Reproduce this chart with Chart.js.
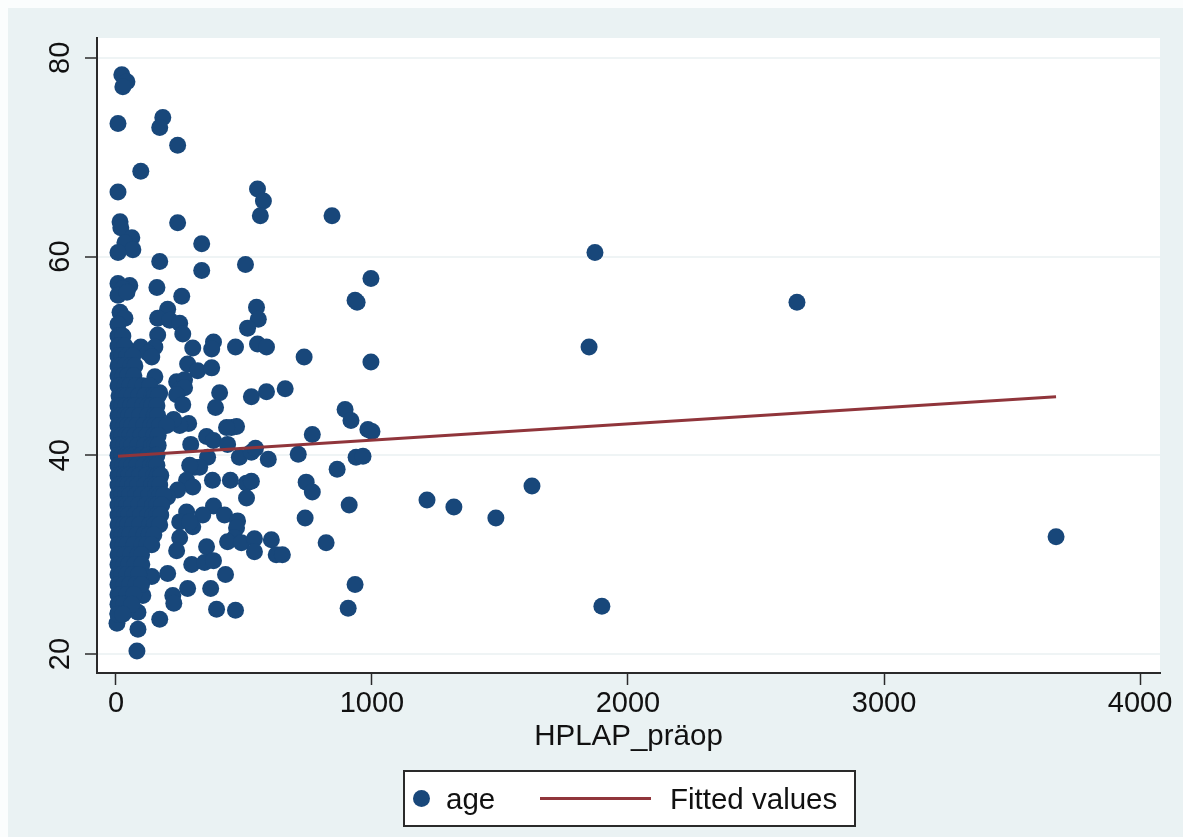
<!DOCTYPE html>
<html><head><meta charset="utf-8">
<script src="https://cdn.jsdelivr.net/npm/chart.js@4"></script>
<style>
html,body{margin:0;padding:0;background:#fbfdfd;width:1183px;height:837px;overflow:hidden}
#bg{position:absolute;left:8px;top:8px;width:1175px;height:829px;background:#eaf2f3}
#wrap{position:absolute;left:0;top:0;width:1183px;height:837px;filter:blur(.4px)}
#legend{position:absolute;left:403px;top:770px;width:449px;height:53px;background:#fff;border:2px solid #2a2a2a;font:29.5px "Liberation Sans",Arial,sans-serif;color:#111;filter:blur(.4px)}
#legend span{position:absolute;top:10px;line-height:33px;white-space:nowrap}
#legend i{position:absolute;display:block}
</style></head><body>
<div id="bg"></div>
<div id="wrap"><canvas id="c" width="1183" height="837"></canvas></div>
<div id="legend">
<i style="left:8px;top:18px;width:17px;height:17px;border-radius:50%;background:#18477a"></i><span style="left:41px">age</span>
<i style="left:135px;top:25px;width:111px;height:3px;background:#90353b"></i><span style="left:265px">Fitted values</span>
</div>
<script>
const xTickValues=[0,1000,2000,3000,4000];
const yTickValues=[20,40,60,80];
const xTitle="HPLAP_präop";
const upperPoints=[[23,78.3],[43,77.6],[27,77.1],[8,73.4],[183,74.0],[171,73.0],[241,71.2],[97,68.6],[8,66.5],[553,66.8],[576,65.6],[564,64.1],[844,64.1],[241,63.4],[16,63.5],[19,62.9],[62,61.9],[35,61.4],[66,60.7],[8,60.4],[335,61.3],[171,59.5],[335,58.6],[506,59.2],[996,57.8],[934,55.6],[942,55.4],[8,57.3],[54,57.1],[27,56.8],[8,56.1],[43,56.4],[160,56.9],[257,56.0],[549,54.9],[556,53.7],[514,52.8],[16,54.4],[35,53.8],[8,53.2],[202,54.7],[163,53.8],[210,53.6],[249,53.3],[261,52.2],[163,52.1],[381,51.4],[553,51.2],[588,50.9],[467,50.9],[300,50.8],[97,50.9],[152,50.9],[374,50.7],[125,50.3],[140,49.9]];
const middlePoints=[[735,49.9],[996,49.4],[280,49.2],[319,48.5],[374,48.8],[152,47.9],[237,47.4],[268,47.6],[249,46.6],[268,46.8],[237,46.1],[171,46.3],[261,45.1],[405,46.3],[389,44.8],[529,45.9],[588,46.4],[661,46.7],[895,44.6],[918,43.5],[984,42.6],[1000,42.4],[767,42.1],[451,42.8],[471,42.9],[432,42.8],[354,41.9],[381,41.5],[292,41.1],[436,41.1],[358,39.8],[482,39.8],[529,40.3],[545,40.7],[595,39.6],[712,40.1],[938,39.8],[965,39.9],[864,38.6],[307,38.8],[327,38.8],[288,39.0],[171,37.8],[377,37.5],[447,37.5],[276,37.5],[300,36.8],[241,36.5],[510,37.2],[529,37.4],[510,35.7],[743,37.3],[767,36.3],[911,35.0],[284,43.2],[249,43.0],[225,43.6]];
const lowerPoints=[[202,35.8],[381,34.9],[276,34.3],[339,34.0],[424,34.0],[475,33.4],[249,33.3],[300,32.8],[288,33.3],[739,33.7],[471,32.7],[249,31.7],[354,30.8],[463,31.7],[436,31.3],[490,31.2],[541,31.6],[607,31.5],[541,30.3],[626,30.0],[650,30.0],[821,31.2],[237,30.4],[296,29.0],[346,29.2],[381,29.4],[428,28.0],[202,28.1],[140,27.8],[105,25.9],[280,26.6],[222,25.9],[226,25.1],[370,26.6],[393,24.5],[467,24.4],[934,27.0],[907,24.6],[171,23.5],[86,24.2],[86,22.5],[82,20.3],[4,23.1],[8,24.1],[43,24.4]];
const outlierPoints=[[1215,35.5],[1320,34.8],[1484,33.7],[1625,36.9],[1848,50.9],[1871,60.4],[1898,24.8],[2660,55.4],[3672,31.8]];
const denseAges=[52,51,50,49,48,47,46,45,44,43,42,41,40,39,38,37,36,35,34,33,32,31,30,29,28,27,26,25,24];
const denseHplap=[[8,16,27],[8,12,35],[8,23,43,66],[8,19,35,58,74],[8,27,46,70],[8,16,35,54,78,105,132],[12,27,43,62,89,113,140,150,165],[8,23,39,58,74,105,125,140,160],[8,19,35,50,66,93,125,150,163],[8,16,31,46,62,82,109,136,152,171,198],[8,23,39,54,74,97,120,148,165],[8,16,31,46,62,86,113,140,152,165],[8,23,39,54,70,97,125,152,160],[8,12,27,43,62,82,109,136,150,160],[8,19,35,50,70,93,120,148,162,175],[8,16,31,46,66,86,113,140,155,171],[8,23,39,54,78,101,129,156,172,186],[8,12,27,43,62,89,117,144,160,179],[8,19,35,50,74,97,125,145,160,175],[8,16,31,46,66,93,132,150,171],[8,23,39,54,82,109,130,148],[8,12,27,43,70,101,120,140],[8,19,35,58,86,100],[8,16,31,50,74,101],[8,23,43,66,89],[8,12,31,54,78,100],[8,19,43,70],[8,16,31,62],[8,27]];
const fittedX=[8,3672];
const fittedY=[39.9,45.9];

const toXY=p=>({x:p[0],y:p[1]});
const scatter=[...upperPoints,...middlePoints,...lowerPoints,...outlierPoints].map(toXY);
denseAges.forEach((a,i)=>denseHplap[i].forEach(h=>scatter.push({x:h,y:a})));
const fontFamily='"Liberation Sans",Arial,sans-serif';
const tickFont={family:fontFamily,size:29};
const titleFont={family:fontFamily,size:29.5};
const plotBg={id:'plotBg',beforeDraw(ch){const a=ch.chartArea;ch.ctx.save();ch.ctx.fillStyle='#ffffff';ch.ctx.fillRect(a.left,a.top,a.width,a.height);ch.ctx.restore();}};
new Chart(document.getElementById('c'),{
 type:'scatter',
 plugins:[plotBg],
 data:{datasets:[
  {label:'Fitted values',type:'line',data:fittedX.map((x,i)=>({x,y:fittedY[i]})),borderColor:'#90353b',borderWidth:3,pointRadius:0,order:0,fill:false,tension:0},
  {label:'age',data:scatter,backgroundColor:'#18477a',borderWidth:0,pointRadius:8.5,pointHoverRadius:8.5,order:1}
 ]},
 options:{responsive:false,animation:false,
  layout:{padding:{left:0,right:23,top:38,bottom:82}},
  plugins:{legend:{display:false},tooltip:{enabled:false}},
  scales:{
   x:{type:'linear',min:-74,max:4078,
    afterBuildTicks(s){s.ticks=xTickValues.map(v=>({value:v}));},
    afterFit(s){s.height=82;},
    grid:{drawOnChartArea:false,tickLength:12,tickColor:'#2a2a2a',tickWidth:1.5},
    border:{color:'#2a2a2a',width:2},
    ticks:{font:tickFont,color:'#111',padding:2,maxRotation:0,minRotation:0,autoSkip:false,callback:v=>String(v)},
    title:{display:true,text:xTitle,font:titleFont,color:'#111',padding:0}
   },
   y:{type:'linear',min:18.09,max:82,
    afterBuildTicks(s){s.ticks=yTickValues.map(v=>({value:v}));},
    afterFit(s){s.width=97;},
    grid:{color:'#eff4f5',lineWidth:2,tickLength:12,tickColor:'#2a2a2a',tickWidth:1.5},
    border:{color:'#2a2a2a',width:2},
    ticks:{font:tickFont,color:'#111',padding:8,minRotation:90,maxRotation:90,autoSkip:false,crossAlign:'center',callback:v=>String(v)}
   }
  }
 }
});
</script></body></html>
